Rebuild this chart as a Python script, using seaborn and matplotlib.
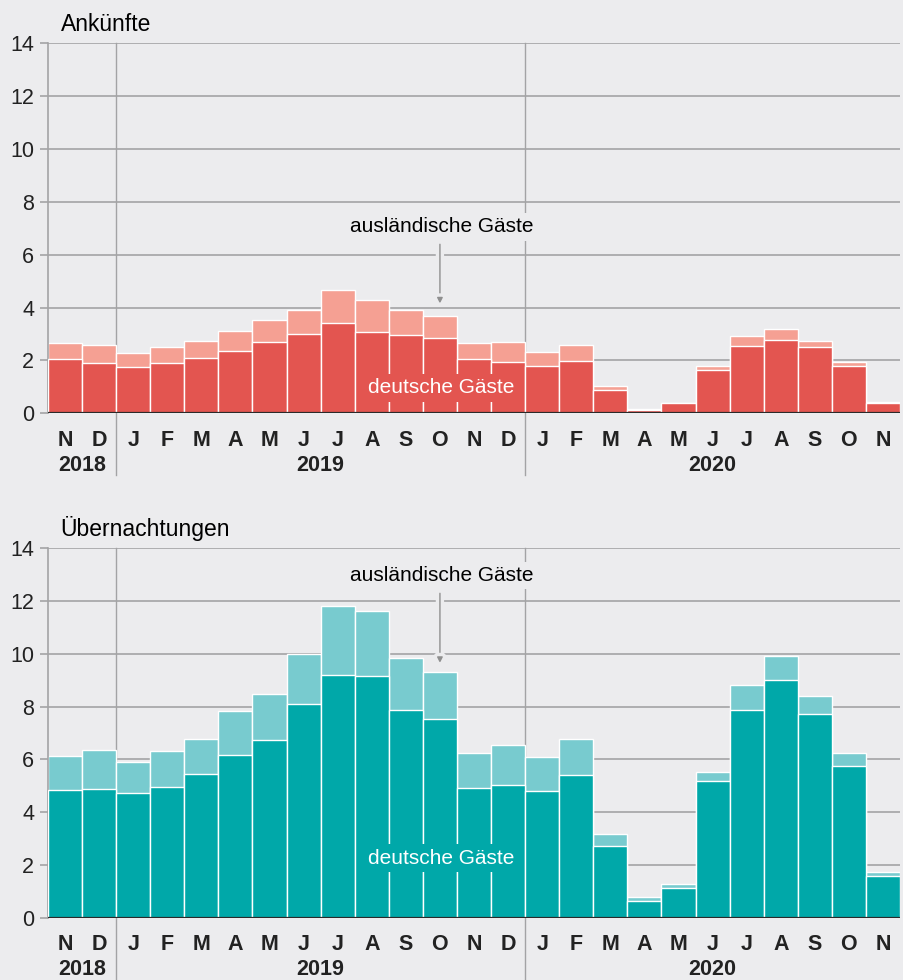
import numpy as np
import pandas as pd
import matplotlib
matplotlib.use("Agg")
import matplotlib.pyplot as plt
import matplotlib.patheffects as pe
import seaborn as sns

# Monate Nov 2018 - Nov 2020
monate = ['N', 'D', 'J', 'F', 'M', 'A', 'M', 'J', 'J', 'A', 'S', 'O',
          'N', 'D', 'J', 'F', 'M', 'A', 'M', 'J', 'J', 'A', 'S', 'O', 'N']
jahre = ['2018', '2019', '2020']

# Ankünfte (Mio.)
ank_de = [2.04, 1.92, 1.74, 1.90, 2.11, 2.35, 2.71, 2.99, 3.40, 3.09, 2.98, 2.86,
          2.06, 1.95, 1.78, 1.98, 0.88, 0.13, 0.38, 1.65, 2.55, 2.77, 2.50, 1.80, 0.38]
ank_aus = [0.61, 0.67, 0.53, 0.62, 0.61, 0.76, 0.82, 0.93, 1.28, 1.18, 0.93, 0.83,
           0.60, 0.74, 0.55, 0.61, 0.17, 0.02, 0.02, 0.13, 0.39, 0.41, 0.25, 0.15, 0.04]

# Übernachtungen (Mio.)
ueb_de = [4.84, 4.88, 4.73, 4.97, 5.45, 6.17, 6.75, 8.09, 9.20, 9.15, 7.88, 7.52,
          4.93, 5.02, 4.80, 5.42, 2.72, 0.64, 1.14, 5.18, 7.88, 9.01, 7.72, 5.76, 1.58]
ueb_aus = [1.30, 1.46, 1.18, 1.36, 1.32, 1.66, 1.72, 1.90, 2.63, 2.46, 1.98, 1.81,
           1.30, 1.54, 1.28, 1.34, 0.45, 0.13, 0.14, 0.34, 0.93, 0.90, 0.67, 0.49, 0.14]

bg = '#ececee'
grid_c = '#a3a3a5'
txt_c = '#222222'

plt.rcParams['font.family'] = ['Liberation Sans', 'DejaVu Sans']
plt.rcParams['figure.facecolor'] = bg
plt.rcParams['axes.facecolor'] = bg

keys = [f'm{i:02d}' for i in range(len(monate))]


def panel(ax, de, aus, col_de, col_aus, titel, y_aus, pfeil, y_de):
    df = pd.DataFrame({'monat': keys, 'deutsch': de, 'auslaendisch': aus})
    df['gesamt'] = df['deutsch'] + df['auslaendisch']

    # gesamt (hell) zuerst, deutsche Gäste darüber
    sns.barplot(data=df, x='monat', y='gesamt', color=col_aus, saturation=1,
                width=1, edgecolor='white', linewidth=1, ax=ax, zorder=2)
    sns.barplot(data=df, x='monat', y='deutsch', color=col_de, saturation=1,
                width=1, edgecolor='white', linewidth=1, ax=ax, zorder=3)

    ax.set_xlim(-0.5, len(keys) - 0.5)
    ax.set_ylim(0, 14)
    ax.set_yticks(range(0, 15, 2))
    ax.set_xlabel('')
    ax.set_ylabel('')
    ax.set_xticks([])
    ax.set_axisbelow(True)
    ax.yaxis.grid(True, color=grid_c, lw=1.2, zorder=0)
    ax.tick_params(axis='y', length=6, color=grid_c, width=1.2,
                   labelsize=15.5, labelcolor=txt_c, pad=4)
    for s in ['top', 'right', 'bottom']:
        ax.spines[s].set_visible(False)
    ax.spines['left'].set_color(grid_c)
    ax.spines['left'].set_linewidth(1.2)
    ax.axhline(0, color='#2a2a2a', lw=1.6, zorder=5)

    # Jahrestrenner
    ymin = -62 / 370
    for xs in [1.5, 13.5]:
        ax.axvline(xs, ymin=ymin, ymax=1, color=grid_c, lw=1.0, zorder=1,
                   clip_on=False)

    # Monats- und Jahresbeschriftung
    for i, m in enumerate(monate):
        ax.annotate(m, xy=(i, 0), xycoords=('data', 'axes fraction'),
                    xytext=(0, -19.5), textcoords='offset points',
                    ha='center', va='center', fontsize=15.5, fontweight='bold',
                    color=txt_c)
    for xj, j in zip([0.5, 7.5, 19], jahre):
        ax.annotate(j, xy=(xj, 0), xycoords=('data', 'axes fraction'),
                    xytext=(0, -37.5), textcoords='offset points',
                    ha='center', va='center', fontsize=15.5, fontweight='bold',
                    color=txt_c)

    ax.annotate(titel, xy=(0, 1), xycoords='axes fraction',
                xytext=(9, 8.8), textcoords='offset points',
                ha='left', va='baseline', fontsize=16.5, color='black')

    # Beschriftungen im Diagramm
    ax.text(11.05, y_aus, 'ausländische Gäste', ha='center', va='center',
            fontsize=15, color='black', zorder=6,
            bbox=dict(facecolor=bg, edgecolor='none', pad=3))
    ax.annotate('', xy=(11, pfeil[1]), xytext=(11, pfeil[0]),
                arrowprops=dict(arrowstyle='-|>', color='#8f8f8f', lw=1,
                                mutation_scale=8,
                                path_effects=[pe.withStroke(linewidth=6, foreground=bg)]),
                zorder=6)
    ax.text(11.05, y_de, 'deutsche Gäste', ha='center', va='center',
            fontsize=15, color='white', zorder=6,
            bbox=dict(facecolor=col_de, edgecolor='none', pad=3))


fig = plt.figure(figsize=(9.04, 9.80), dpi=100)
ax1 = fig.add_axes([0.0531, 0.5783, 0.9425, 0.3775])
ax2 = fig.add_axes([0.0531, 0.0636, 0.9425, 0.3769])

panel(ax1, ank_de, ank_aus, '#e35550', '#f5a093', 'Ankünfte',
      7.05, (6.5, 4.05), 0.96)
panel(ax2, ueb_de, ueb_aus, '#00a8a9', '#78cbcf', 'Übernachtungen',
      12.98, (12.4, 9.55), 2.26)

fig.savefig('out.png', dpi=100, facecolor=bg)
